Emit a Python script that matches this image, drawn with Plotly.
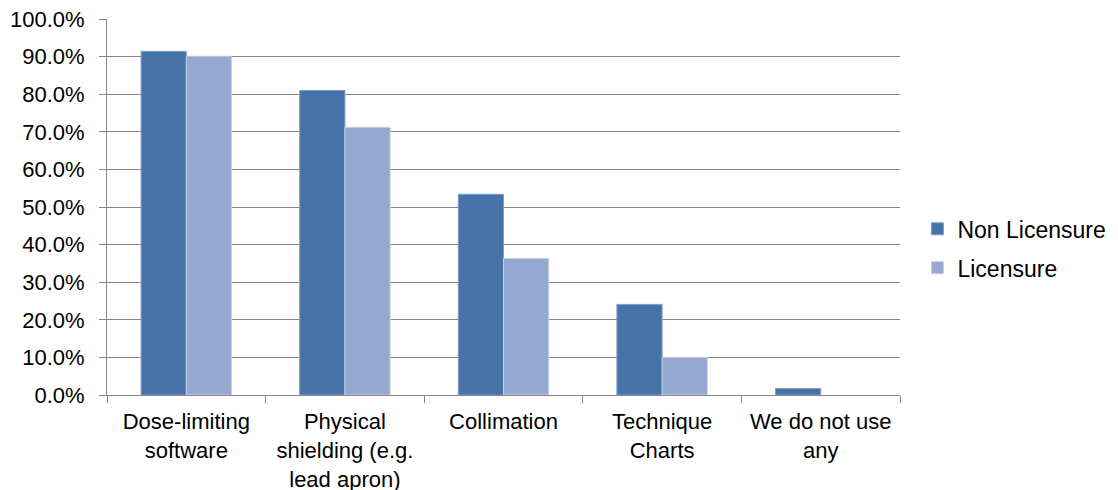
import plotly.graph_objects as go

categories = ["Dose-limiting<br>software", "Physical<br>shielding (e.g.<br>lead apron)",
              "Collimation", "Technique<br>Charts", "We do not use<br>any"]
non_licensure = [0.914, 0.810, 0.534, 0.241, 0.017]
licensure = [0.901, 0.712, 0.363, 0.100, 0.0]

fig = go.Figure()
fig.add_trace(go.Bar(x=categories, y=non_licensure, name="Non Licensure",
                     marker=dict(color="#4572A7", line=dict(color="#7F9CC6", width=1)),
                     legendgroup="a"))
fig.add_trace(go.Bar(x=categories, y=licensure, name="Licensure",
                     marker=dict(color="#95A9D0",
                                 line=dict(color="#C2CFE6", width=[1, 1, 1, 1, 0])),
                     legendgroup="b"))

font = dict(family="Liberation Sans, Arial, sans-serif", size=22, color="#000000")
fig.update_layout(
    width=1118, height=490,
    margin=dict(l=99, r=226, t=11, b=103, autoexpand=False),
    paper_bgcolor="white", plot_bgcolor="white",
    font=font,
    barmode="group", bargap=0.43, bargroupgap=0,
    legend=dict(x=1.022, y=0.39, xanchor="left", yanchor="middle",
                font=dict(family="Liberation Sans, Arial, sans-serif", size=23, color="#000000"),
                tracegroupgap=6, itemwidth=30),
    xaxis=dict(showline=True, linecolor="#868686", linewidth=1, automargin=False,
               ticks="outside", ticklen=7, tickcolor="#868686", tickson="boundaries",
               ticklabelstandoff=7, ticklabeloverflow="allow",
               showgrid=False, tickfont=font),
    yaxis=dict(range=[0, 1.0001], tickvals=[i / 10 for i in range(11)],
               tickformat=".1%", automargin=False, ticklabeloverflow="allow",
               showline=True, linecolor="#868686", linewidth=1,
               ticks="outside", ticklen=7, tickcolor="#868686", ticklabelstandoff=10,
               showgrid=True, gridcolor="#868686", gridwidth=1,
               zeroline=False, tickfont=font),
)
fig.write_html("out.html")
